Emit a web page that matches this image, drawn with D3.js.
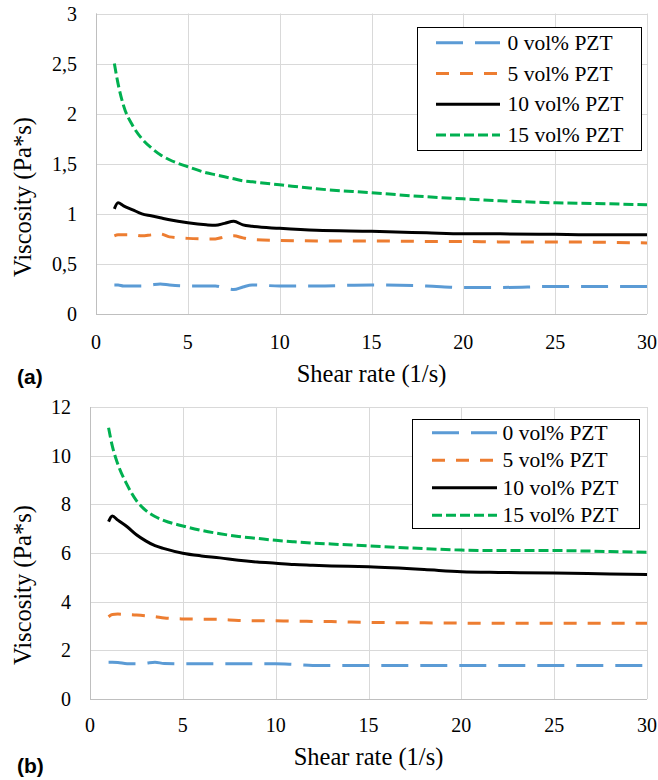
<!DOCTYPE html>
<html><head><meta charset="utf-8">
<script src="https://cdn.jsdelivr.net/npm/d3@7"></script>
<style>body{margin:0;background:#fff} svg{display:block}</style>
</head><body>
<svg id="c" width="658" height="780"></svg>
<script>
// ---------- DATA ----------
const seriesNames = ["0 vol% PZT", "5 vol% PZT", "10 vol% PZT", "15 vol% PZT"];

// panel (a)
const shearA = [1, 1.2, 1.5, 2, 2.5, 3, 3.5, 4, 5, 6, 6.5, 7, 7.5, 8, 8.5, 10, 12, 15, 18, 20, 22, 25, 28, 30];
const viscA0  = [0.29, 0.29, 0.28, 0.28, 0.28, 0.29, 0.30, 0.29, 0.28, 0.28, 0.28, 0.26, 0.245, 0.27, 0.29, 0.28, 0.28, 0.29, 0.28, 0.265, 0.265, 0.275, 0.275, 0.275];
const viscA5  = [0.78, 0.79, 0.79, 0.79, 0.78, 0.79, 0.80, 0.77, 0.755, 0.75, 0.75, 0.77, 0.78, 0.76, 0.745, 0.735, 0.73, 0.73, 0.725, 0.725, 0.72, 0.72, 0.715, 0.71];
const viscA10 = [1.05, 1.11, 1.08, 1.04, 1.00, 0.98, 0.96, 0.94, 0.91, 0.89, 0.885, 0.905, 0.925, 0.89, 0.875, 0.855, 0.835, 0.825, 0.81, 0.80, 0.80, 0.795, 0.79, 0.79];
const viscA15 = [2.50, 2.30, 2.08, 1.88, 1.75, 1.66, 1.59, 1.54, 1.47, 1.41, 1.39, 1.37, 1.35, 1.33, 1.32, 1.29, 1.25, 1.21, 1.17, 1.15, 1.13, 1.11, 1.10, 1.09];

// panel (b)
const shearB = [1, 1.2, 1.5, 2, 2.5, 3, 3.5, 4, 5, 6, 7, 8, 9, 10, 11, 12, 13, 15, 18, 20, 22, 25, 28, 30];
const viscB0  = [1.51, 1.51, 1.50, 1.45, 1.45, 1.47, 1.51, 1.46, 1.45, 1.45, 1.45, 1.45, 1.45, 1.45, 1.42, 1.38, 1.38, 1.38, 1.38, 1.38, 1.38, 1.38, 1.38, 1.38];
const viscB5  = [3.38, 3.47, 3.49, 3.47, 3.45, 3.42, 3.38, 3.33, 3.29, 3.28, 3.27, 3.23, 3.22, 3.22, 3.20, 3.19, 3.18, 3.15, 3.13, 3.12, 3.11, 3.11, 3.11, 3.11];
const viscB10 = [7.29, 7.52, 7.35, 7.08, 6.75, 6.50, 6.30, 6.18, 5.99, 5.88, 5.80, 5.70, 5.63, 5.58, 5.53, 5.50, 5.47, 5.43, 5.32, 5.23, 5.20, 5.18, 5.14, 5.12];
const viscB15 = [11.15, 10.40, 9.65, 8.80, 8.15, 7.75, 7.50, 7.33, 7.11, 6.93, 6.79, 6.68, 6.60, 6.52, 6.46, 6.41, 6.37, 6.29, 6.18, 6.12, 6.10, 6.10, 6.06, 6.03];

const xTicks = [0, 5, 10, 15, 20, 25, 30];
const yTicksA = [0, 0.5, 1, 1.5, 2, 2.5, 3];
const yTickLabelsA = ["0", "0,5", "1", "1,5", "2", "2,5", "3"];
const yTicksB = [0, 2, 4, 6, 8, 10, 12];
const yTickLabelsB = ["0", "2", "4", "6", "8", "10", "12"];
const xTitle = "Shear rate (1/s)";
const yTitle = "Viscosity (Pa*s)";

// ---------- STYLE ----------
const colors = ["#5b9bd5", "#ed7d31", "#000000", "#00b050"];
const dashes = ["27 12", "13 11", null, "10 4"];
const serif = "'Liberation Serif','Times New Roman',serif";

const svg = d3.select("#c");

function panel(cfg) {
  const g = svg.append("g");
  const x = d3.scaleLinear().domain([0, 30]).range([cfg.left, cfg.right]);
  const y = d3.scaleLinear().domain(cfg.yDomain).range([cfg.bottom, cfg.top]);

  // gridlines
  g.append("g").selectAll("line.h").data(cfg.yTicks).join("line")
    .attr("x1", cfg.left).attr("x2", cfg.right)
    .attr("y1", d => Math.round(y(d)) + 0.5).attr("y2", d => Math.round(y(d)) + 0.5)
    .attr("stroke", "#d9d9d9").attr("stroke-width", 1);
  g.append("g").selectAll("line.v").data(xTicks).join("line")
    .attr("y1", cfg.top).attr("y2", cfg.bottom)
    .attr("x1", d => Math.round(x(d)) + 0.5).attr("x2", d => Math.round(x(d)) + 0.5)
    .attr("stroke", "#d9d9d9").attr("stroke-width", 1);

  // axes lines
  g.append("line").attr("x1", Math.round(cfg.left) + 0.5).attr("x2", Math.round(cfg.left) + 0.5)
    .attr("y1", cfg.top).attr("y2", cfg.bottom).attr("stroke", "#bfbfbf");
  g.append("line").attr("x1", cfg.left).attr("x2", cfg.right)
    .attr("y1", Math.round(cfg.bottom) + 0.5).attr("y2", Math.round(cfg.bottom) + 0.5).attr("stroke", "#bfbfbf");

  // tick labels
  g.append("g").selectAll("text").data(cfg.yTicks).join("text")
    .attr("x", cfg.yLabelRight).attr("y", d => y(d)).attr("dy", "0.35em")
    .attr("text-anchor", "end").attr("font-family", serif).attr("font-size", 20)
    .attr("fill", "#000").text((d, i) => cfg.yLabels[i]);
  g.append("g").selectAll("text").data(xTicks).join("text")
    .attr("x", d => x(d)).attr("y", cfg.xLabelBase)
    .attr("text-anchor", "middle").attr("font-family", serif).attr("font-size", 20)
    .attr("fill", "#000").text(d => d);

  // titles
  g.append("text").attr("x", (cfg.left + cfg.right) / 2).attr("y", cfg.xTitleBase)
    .attr("text-anchor", "middle").attr("font-family", serif).attr("font-size", 24.5)
    .text(xTitle);
  g.append("text").attr("transform", `translate(${cfg.yTitleX},${cfg.yTitleY}) rotate(-90)`)
    .attr("text-anchor", "middle").attr("font-family", serif).attr("font-size", 24.5)
    .text(yTitle);

  // panel label
  g.append("text").attr("x", 17).attr("y", cfg.labelBase)
    .attr("font-family", "'Liberation Sans',Arial,sans-serif").attr("font-weight", "bold")
    .attr("font-size", 21).text(cfg.label);

  // lines
  const line = d3.line().x(d => x(d[0])).y(d => y(d[1])).curve(d3.curveMonotoneX);
  cfg.series.forEach((vals, i) => {
    const pts = cfg.shear.map((s, k) => [s, vals[k]]);
    g.append("path").attr("d", line(pts)).attr("fill", "none")
      .attr("stroke", colors[i]).attr("stroke-width", 3)
      .attr("stroke-dasharray", dashes[i]);
  });

  // legend
  const lg = g.append("g");
  lg.append("rect").attr("x", cfg.leg.x + 0.5).attr("y", cfg.leg.y + 0.5)
    .attr("width", cfg.leg.w).attr("height", cfg.leg.h)
    .attr("fill", "#fff").attr("stroke", "#000").attr("stroke-width", 1);
  seriesNames.forEach((name, i) => {
    const cy = cfg.leg.firstY + i * cfg.leg.step;
    lg.append("line").attr("x1", cfg.leg.lx1).attr("x2", cfg.leg.lx2)
      .attr("y1", cy).attr("y2", cy).attr("stroke", colors[i]).attr("stroke-width", 3)
      .attr("stroke-dasharray", dashes[i]);
    lg.append("text").attr("x", cfg.leg.tx).attr("y", cy).attr("dy", "0.33em")
      .attr("font-family", serif).attr("font-size", 21.5).text(name);
  });
}

panel({
  left: 96, right: 647, top: 13.5, bottom: 314, yDomain: [0, 3],
  yTicks: yTicksA, yLabels: yTickLabelsA, yLabelRight: 77,
  xLabelBase: 349, xTitleBase: 382, yTitleX: 31, yTitleY: 197,
  label: "(a)", labelBase: 384,
  shear: shearA, series: [viscA0, viscA5, viscA10, viscA15],
  leg: { x: 417, y: 27, w: 224, h: 123, firstY: 42.7, step: 30.8, lx1: 436, lx2: 500, tx: 507.5 }
});

panel({
  left: 90, right: 647, top: 407, bottom: 699, yDomain: [0, 12],
  yTicks: yTicksB, yLabels: yTickLabelsB, yLabelRight: 71,
  xLabelBase: 732, xTitleBase: 765, yTitleX: 31, yTitleY: 585,
  label: "(b)", labelBase: 773,
  shear: shearB, series: [viscB0, viscB5, viscB10, viscB15],
  leg: { x: 412, y: 419, w: 227, h: 109, firstY: 432.7, step: 27.5, lx1: 432, lx2: 497, tx: 502.5 }
});
</script>
</body></html>
